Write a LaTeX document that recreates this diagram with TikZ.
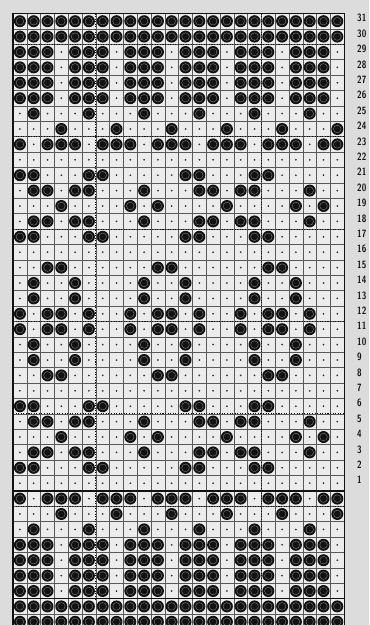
\documentclass[tikz,border=0pt]{standalone}
\usepackage{tikz}
\usetikzlibrary{positioning}
\definecolor{paper}{RGB}{220,220,220}
\definecolor{cellbg}{RGB}{236,236,236}
\definecolor{ink}{RGB}{18,18,18}

% filled stitches per row type (column numbers)
\newcommand\knitFull{1,...,24}
\newcommand\knitBand{1,2,3,5,6,7,9,10,11,13,14,15,17,18,19,21,22,23}
\newcommand\knitSpotA{2,6,10,14,18,22}
\newcommand\knitSpotB{4,8,12,16,20,24}
\newcommand\knitBar{1,3,4,5,7,8,9,11,12,13,15,16,17,19,20,21,23,24}
\newcommand\knitPair{1,2,6,7,13,14,18,19}
\newcommand\knitArm{2,3,5,6,10,14,15,17,18,22}
\newcommand\knitTip{4,9,11,16,21,23}
\newcommand\knitRingEnd{3,4,11,12,19,20}
\newcommand\knitRingSide{2,5,10,13,18,21}
\newcommand\knitRingMid{1,3,4,6,9,11,12,14,17,19,20,22}

\begin{document}
\begin{tikzpicture}[x=0.03cm, y=-0.03cm,
  gridline/.style={draw=ink!70, line width=0.45pt},
  frameline/.style={draw=ink, line width=1.1pt},
  repeatline/.style={draw=ink, line width=1pt, dash pattern=on 0.9pt off 1.3pt},
  stitch/.style={fill=ink},
  ring/.style={draw=ink!55, line width=0.35pt},
  blank/.style={fill=ink!85},
  rowno/.style={font=\fontsize{9}{9}\selectfont\sffamily\bfseries, anchor=west,
                inner sep=0pt, text=ink}
]
  \useasboundingbox (0,0) rectangle (369,625);
  \clip (0,0) rectangle (369,625);
  \fill[paper] (0,0) rectangle (369,625);
  \fill[cellbg] (13,13.5) rectangle (344.2,629.5);

  % ── grid ──
  \foreach \c in {0,...,24}
    \draw[gridline] ({13+13.8*\c},13.5) -- ({13+13.8*\c},629.5);
  \foreach \r in {0,...,40}
    \draw[gridline] (13,{13.5+15.4*\r}) -- (344.2,{13.5+15.4*\r});

  % ── repeat marks ──
  \foreach \r in {2,8,14,20,26,32}
    \draw[repeatline] (13,{13.5+15.4*\r}) -- (344.2,{13.5+15.4*\r});
  \foreach \c in {6,18}
    \draw[repeatline] ({13+13.8*\c},13.5) -- ({13+13.8*\c},598.7);

  \draw[frameline] (13,13.5) rectangle (344.2,629.5);
  \foreach \r in {31,38}
    \draw[frameline] (13,{13.5+15.4*\r}) -- (344.2,{13.5+15.4*\r});

  % ── empty stitches ──
  \foreach \r in {1,...,40}
    \foreach \c in {1,...,24}
      \fill[blank] ({13+13.8*(\c-0.5)},{13.5+15.4*(\r-0.5)}) circle (1);

  % ── filled stitches ──
  \foreach \r/\pat in {1/\knitFull, 2/\knitFull, 3/\knitBand, 4/\knitBand,
      5/\knitBand, 6/\knitBand, 7/\knitSpotA, 8/\knitSpotB, 9/\knitBar,
      11/\knitPair, 12/\knitArm, 13/\knitTip, 14/\knitArm, 15/\knitPair,
      17/\knitRingEnd, 18/\knitRingSide, 19/\knitRingSide, 20/\knitRingMid,
      21/\knitRingMid, 22/\knitRingSide, 23/\knitRingSide, 24/\knitRingEnd,
      26/\knitPair, 27/\knitArm, 28/\knitTip, 29/\knitArm, 30/\knitPair,
      32/\knitBar, 33/\knitSpotB, 34/\knitSpotA, 35/\knitBand, 36/\knitBand,
      37/\knitBand, 38/\knitBand, 39/\knitFull, 40/\knitFull}{
    \edef\knitcur{\pat}
    \foreach \c in \knitcur {
      \fill[stitch] ({13+13.8*(\c-0.5)},{13.5+15.4*(\r-0.5)}) circle (6);
      \draw[ring] ({13+13.8*(\c-0.5)},{13.5+15.4*(\r-0.5)}) circle (3.8);
    }
  }

  % ── row numbers ──
  \foreach \r in {1,...,31}{
    \pgfmathtruncatemacro\lab{32-\r}
    \node[rowno] (row\r) at (357,{13.5+15.4*(\r-0.5)-3}) {\scalebox{0.78}[1]{\lab}};
  }
\end{tikzpicture}
\end{document}
